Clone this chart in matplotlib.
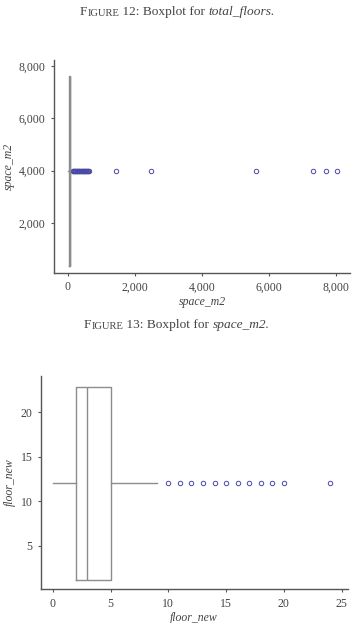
import matplotlib
matplotlib.use('Agg')
import matplotlib.pyplot as plt
from matplotlib.ticker import FuncFormatter

# data
space_q = [10, 40, 55, 80, 140]          # whislo, q1, median, q3, whishi
space_cluster = [150, 170, 190, 210, 230, 250, 270, 290, 310, 330, 350, 370,
                 390, 410, 430, 450, 470, 490, 510, 530, 550, 570, 590, 610, 625]
space_far = [1442, 2478, 5612, 7304, 7701, 8020]

floor_q = [0, 2, 3, 5, 9]
floor_out = [10, 11, 12, 13, 14, 15, 16, 17, 18, 19, 20, 24]

space_ticks = [0, 2000, 4000, 6000, 8000]
space_yticks = [2000, 4000, 6000, 8000]
floor_xticks = [0, 5, 10, 15, 20, 25]
floor_yticks = [5, 10, 15, 20]

serif = 'Liberation Serif'
spine_c = '#555555'
box_c = '#8c8c8c'
flier_c = '#4a4aa6'
text_c = '#444444'

W, H = 352, 623
fig = plt.figure(figsize=(W / 100, H / 100), dpi=100)


def caption(x_px, y_px, num, name):
    t = fig.text(x_px / W, 1 - y_px / H, 'F', fontsize=9.6, family=serif,
                 color=text_c, va='center', ha='left')
    t2 = plt.annotate('IGURE', xy=(1, 0), xycoords=t, fontsize=7.6, family=serif,
                      color=text_c, va='bottom', ha='left', annotation_clip=False)
    t3 = plt.annotate(' %s: Boxplot for ' % num, xy=(1, 0), xycoords=t2, fontsize=9.6,
                      family=serif, color=text_c, va='bottom', ha='left',
                      annotation_clip=False)
    plt.annotate(name, xy=(1, 0), xycoords=t3, fontsize=9.6, family=serif,
                 style='italic', color=text_c, va='bottom', ha='left',
                 annotation_clip=False)


def style(ax):
    for s in ['top', 'right']:
        ax.spines[s].set_visible(False)
    for s in ['left', 'bottom']:
        ax.spines[s].set_color(spine_c)
        ax.spines[s].set_linewidth(1)
    ax.tick_params(length=2, width=0.8, color=spine_c, labelsize=8.5,
                   labelcolor=text_c, pad=4)
    for lab in ax.get_xticklabels() + ax.get_yticklabels():
        lab.set_family(serif)


def box(ax, q, fliers, pos, width):
    stats = [dict(whislo=q[0], q1=q[1], med=q[2], q3=q[3], whishi=q[4], fliers=fliers)]
    ax.bxp(stats, positions=[pos], widths=[width], vert=False, showcaps=False,
           manage_ticks=False,
           boxprops=dict(color=box_c, linewidth=1),
           medianprops=dict(color=box_c, linewidth=1),
           whiskerprops=dict(color=box_c, linewidth=1),
           flierprops=dict(marker='o', markersize=3.2, markerfacecolor='none',
                           markeredgecolor=flier_c, markeredgewidth=0.7))


comma = FuncFormatter(lambda v, p: '{:,.0f}'.format(v))

# top panel
ax1 = fig.add_axes([54 / W, 1 - 273 / H, 296 / W, 213 / H])
box(ax1, space_q, space_cluster + space_far, 4000, 7250)
ax1.set_xlim(-410, 8415)
ax1.set_ylim(95, 8220)
ax1.set_xticks(space_ticks)
ax1.set_yticks(space_yticks)
ax1.xaxis.set_major_formatter(comma)
ax1.yaxis.set_major_formatter(comma)
ax1.set_xlabel('space_m2', family=serif, style='italic', fontsize=8.5, color=text_c, labelpad=2)
ax1.set_ylabel('space_m2', family=serif, style='italic', fontsize=8.5, color=text_c, labelpad=3)
style(ax1)

# bottom panel
ax2 = fig.add_axes([40.7 / W, 1 - 589.3 / H, 307 / W, 213.6 / H])
box(ax2, floor_q, floor_out, 12, 21.6)
ax2.set_xlim(-1.04, 25.52)
ax2.set_ylim(0.1, 24.12)
ax2.set_xticks(floor_xticks)
ax2.set_yticks(floor_yticks)
ax2.set_xlabel('floor_new', family=serif, style='italic', fontsize=8.5, color=text_c, labelpad=2)
ax2.set_ylabel('floor_new', family=serif, style='italic', fontsize=8.5, color=text_c, labelpad=3)
style(ax2)

caption(80, 12, '12', 'total_floors.')
caption(84, 325, '13', 'space_m2.')

fig.savefig('out.png', dpi=100)
